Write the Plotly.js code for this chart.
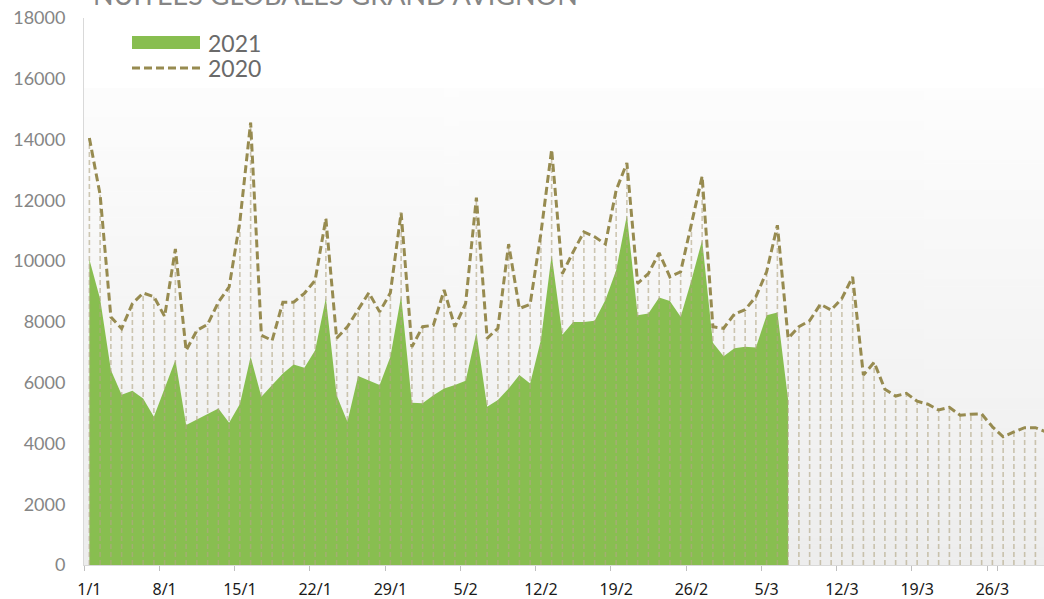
<!DOCTYPE html>
<html><head><meta charset="utf-8">
<script src="https://cdn.plot.ly/plotly-3.0.1.min.js"></script>
<style>html,body{margin:0;padding:0;overflow:hidden;background:#fff}</style>
</head><body><div id="chart" style="width:1044px;height:599px"></div>
<script>
const days = [
 '1/1','2/1','3/1','4/1','5/1','6/1','7/1','8/1','9/1','10/1','11/1','12/1','13/1','14/1','15/1','16/1','17/1','18/1','19/1','20/1','21/1','22/1','23/1','24/1','25/1','26/1','27/1','28/1','29/1','30/1','31/1',
 '1/2','2/2','3/2','4/2','5/2','6/2','7/2','8/2','9/2','10/2','11/2','12/2','13/2','14/2','15/2','16/2','17/2','18/2','19/2','20/2','21/2','22/2','23/2','24/2','25/2','26/2','27/2','28/2',
 '1/3','2/3','3/3','4/3','5/3','6/3','7/3','8/3','9/3','10/3','11/3','12/3','13/3','14/3','15/3','16/3','17/3','18/3','19/3','20/3','21/3','22/3','23/3','24/3','25/3','26/3','27/3','28/3','29/3','30/3','31/3'
];
const tickDays = ['1/1','8/1','15/1','22/1','29/1','5/2','12/2','19/2','26/2','5/3','12/3','19/3','26/3'];
const yTicks = [0,2000,4000,6000,8000,10000,12000,14000,16000,18000];

const values2021 = [
 10050,8750,6420,5600,5730,5480,4880,5850,6750,4610,
 4790,4970,5150,4680,5300,6850,5540,5920,6300,6600,
 6490,7070,8780,5590,4710,6220,6080,5920,6850,8850,
 5340,5320,5590,5810,5920,6060,7640,5210,5430,5810,
 6250,5970,7400,10200,7580,8000,8000,8040,8720,9700,
 11510,8220,8280,8800,8690,8170,9370,10690,7310,6870,
 7130,7180,7160,8220,8310,5430
];
const values2020 = [
 14050,12180,8160,7780,8600,8950,8830,8180,10400,7060,
 7720,7920,8650,9150,11300,14560,7560,7390,8650,8650,
 8940,9370,11400,7460,7840,8410,8960,8330,8960,11590,
 7180,7840,7890,9050,7840,8610,12090,7460,7790,10560,
 8440,8580,10910,13670,9590,10300,10960,10800,10560,12330,
 13230,9270,9590,10270,9480,9650,11240,12790,7840,7790,
 8260,8400,8830,9650,11180,7460,7840,8040,8580,8390,
 8770,9480,6250,6670,5780,5560,5650,5390,5290,5100,
 5190,4930,4960,4970,4550,4220,4380,4520,4520,4380
];

const GREEN = '#88be50';
const OLIVE = '#978b50';

// drop lines built from the 2020 series
const dropX = [], dropY = [];
values2020.forEach((v, i) => { dropX.push(days[i], days[i], null); dropY.push(0, v, null); });

// gradient background image
const cv = document.createElement('canvas'); cv.width = 4; cv.height = 256;
const ctx = cv.getContext('2d');
const g = ctx.createLinearGradient(0, 0, 0, 256);
g.addColorStop(0, '#fdfdfd'); g.addColorStop(1, '#ededed');
ctx.fillStyle = g; ctx.fillRect(0, 0, 4, 256);
const bgURL = cv.toDataURL('image/png');

const traces = [
 {x: days.slice(0, values2021.length), y: values2021, type: 'scatter', mode: 'lines',
  fill: 'tozeroy', fillcolor: GREEN, line: {width: 0, color: GREEN}, hoverinfo: 'skip', name: '2021'},
 {x: dropX, y: dropY, type: 'scatter', mode: 'lines',
  line: {width: 1.6, color: 'rgba(178,166,132,0.62)', dash: '5px,3px'}, hoverinfo: 'skip', connectgaps: false},
 {x: days, y: values2020, type: 'scatter', mode: 'lines',
  line: {width: 3, color: OLIVE, dash: '8px,4px'}, name: '2020'}
];

const plotTop = 18, plotBottom = 565, plotH = plotBottom - plotTop, plotL = 84, plotW = 960;
const py = p => (plotBottom - p) / plotH;
const px = p => (p - plotL) / plotW;

const layout = {
 width: 1044, height: 599,
 margin: {l: plotL, r: 0, t: plotTop, b: 599 - plotBottom, pad: 0},
 paper_bgcolor: '#ffffff', plot_bgcolor: 'rgba(0,0,0,0)',
 showlegend: false,
 xaxis: {type: 'category', range: [-0.5, 88.8], tickmode: 'array', tickvals: tickDays, ticktext: tickDays,
   tickangle: 0, ticks: 'outside', ticklen: 5, tickwidth: 1, tickcolor: '#bfbfbf', tickson: 'boundaries',
   showgrid: false, showline: true, linecolor: '#d9d9d9', linewidth: 1, zeroline: false,
   ticklabelstandoff: 10,
   tickfont: {family: 'Noto Sans', size: 16, color: '#1a1a1a'}, fixedrange: true},
 yaxis: {range: [0, 18000], tickmode: 'array', tickvals: yTicks, ticktext: yTicks.map(String),
   showgrid: false, showline: true, linecolor: '#d9d9d9', linewidth: 1, ticks: '', zeroline: false,
   tickfont: {family: 'Lato, sans-serif', size: 18, color: '#858585'}, ticklabelstandoff: 14, fixedrange: true},
 images: [{source: bgURL, xref: 'paper', yref: 'paper', x: 0, y: py(88), sizex: 1, sizey: py(88),
   xanchor: 'left', yanchor: 'top', sizing: 'stretch', layer: 'below'}],
 shapes: [
  {type: 'rect', xref: 'paper', yref: 'paper', x0: px(132), x1: px(200), y0: py(49), y1: py(36),
   fillcolor: GREEN, line: {width: 0}},
  {type: 'line', xref: 'paper', yref: 'paper', x0: px(132), x1: px(200), y0: py(68), y1: py(68),
   line: {color: OLIVE, width: 3, dash: '8px,4px'}}
 ],
 annotations: [
  {text: 'NUITÉES GLOBALES GRAND AVIGNON', xref: 'paper', yref: 'paper', x: px(91), y: py(-5),
   xanchor: 'left', yanchor: 'middle', showarrow: false,
   font: {family: 'Lato, sans-serif', size: 27, color: '#858585'}},
  {text: '2021', xref: 'paper', yref: 'paper', x: px(206), y: py(43), xanchor: 'left', yanchor: 'middle',
   height: 24, showarrow: false, font: {family: 'Lato, sans-serif', size: 23, color: '#6a6a6a'}},
  {text: '2020', xref: 'paper', yref: 'paper', x: px(206), y: py(68), xanchor: 'left', yanchor: 'middle',
   height: 24, showarrow: false, font: {family: 'Lato, sans-serif', size: 23, color: '#6a6a6a'}}
 ]
};

Plotly.newPlot('chart', traces, layout, {displayModeBar: false, staticPlot: true});
</script></body></html>
